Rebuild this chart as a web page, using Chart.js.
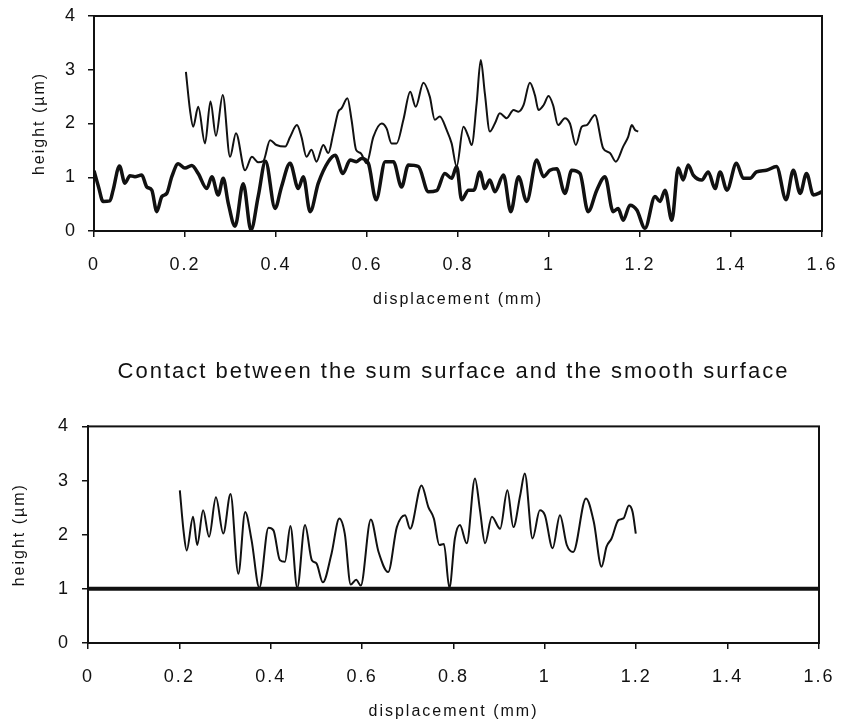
<!DOCTYPE html>
<html>
<head>
<meta charset="utf-8">
<script src="https://cdn.jsdelivr.net/npm/chart.js@4/dist/chart.umd.min.js"></script>
<style>
  body { margin: 0; background: #fff; }
  .box { position: absolute; left: 0; }
  canvas { display: block; }
</style>
</head>
<body>
<div class="box" style="top:0"><canvas id="profileChart" width="841" height="320"></canvas></div>
<div class="box" style="top:340px"><canvas id="contactChart" width="841" height="386"></canvas></div>
<script>
const xTicks = [0, 0.2, 0.4, 0.6, 0.8, 1, 1.2, 1.4, 1.6];
const yTicks = [0, 1, 2, 3, 4];

// first surface (thick line, top plot)
const surfaceAX = [
    0, 0.01, 0.02, 0.035, 0.042, 0.056, 0.068, 0.079, 0.09, 0.105,
    0.116, 0.127, 0.138, 0.149, 0.16, 0.171, 0.185, 0.2, 0.215, 0.229,
    0.248, 0.259, 0.273, 0.284, 0.295, 0.31, 0.328, 0.345, 0.361, 0.377,
    0.398, 0.412, 0.431, 0.449, 0.46, 0.475, 0.493, 0.515, 0.53, 0.547,
    0.563, 0.577, 0.588, 0.603, 0.62, 0.64, 0.658, 0.676, 0.691, 0.713,
    0.735, 0.753, 0.771, 0.786, 0.797, 0.808, 0.823, 0.835, 0.848, 0.859,
    0.87, 0.881, 0.9, 0.916, 0.933, 0.951, 0.973, 0.988, 1.002, 1.017,
    1.035, 1.05, 1.068, 1.086, 1.105, 1.123, 1.141, 1.152, 1.163, 1.178,
    1.193, 1.211, 1.233, 1.244, 1.255, 1.27, 1.284, 1.295, 1.306, 1.317,
    1.336, 1.35, 1.365, 1.376, 1.391, 1.412, 1.427, 1.442, 1.456, 1.478,
    1.5, 1.521, 1.537, 1.552, 1.566, 1.581, 1.6
];
const surfaceAY = [
    1.12, 0.82, 0.55, 0.56, 0.76, 1.21, 0.89, 1.03, 1.01, 1.04,
    0.82, 0.76, 0.36, 0.64, 0.70, 1.01, 1.25, 1.17, 1.22, 1.07,
    0.79, 1.01, 0.67, 0.98, 0.52, 0.09, 0.88, 0.02, 0.65, 1.30,
    0.42, 0.82, 1.26, 0.79, 1.01, 0.36, 0.89, 1.29, 1.41, 1.07,
    1.32, 1.29, 1.35, 1.26, 0.58, 1.29, 1.29, 0.82, 1.23, 1.20,
    0.73, 0.75, 1.07, 0.98, 1.20, 0.58, 0.76, 0.76, 1.10, 0.79,
    0.95, 0.73, 1.04, 0.36, 1.01, 0.55, 1.32, 1.01, 1.13, 1.16,
    0.70, 1.13, 1.07, 0.36, 0.76, 1.01, 0.36, 0.42, 0.20, 0.48,
    0.39, 0.05, 0.64, 0.55, 0.76, 0.20, 1.17, 0.95, 1.23, 1.04,
    0.95, 1.10, 0.79, 1.10, 0.76, 1.26, 0.98, 0.98, 1.10, 1.13,
    1.20, 0.58, 1.13, 0.70, 1.07, 0.67, 0.73
];

// second surface (thin line, top plot)
const surfaceBX = [
    0.202, 0.211, 0.218, 0.229, 0.244, 0.256, 0.268, 0.283, 0.299, 0.312,
    0.332, 0.347, 0.361, 0.372, 0.387, 0.401, 0.42, 0.431, 0.446, 0.456,
    0.467, 0.478, 0.489, 0.504, 0.515, 0.526, 0.537, 0.544, 0.557, 0.566,
    0.576, 0.586, 0.599, 0.614, 0.632, 0.643, 0.654, 0.665, 0.68, 0.695,
    0.707, 0.724, 0.738, 0.749, 0.76, 0.775, 0.786, 0.797, 0.812, 0.823,
    0.83, 0.841, 0.85, 0.859, 0.87, 0.881, 0.892, 0.907, 0.922, 0.933,
    0.944, 0.958, 0.969, 0.977, 0.988, 0.999, 1.009, 1.02, 1.035, 1.046,
    1.059, 1.072, 1.083, 1.101, 1.119, 1.134, 1.147, 1.163, 1.174, 1.182,
    1.189, 1.196
];
const surfaceBY = [
    2.96, 2.25, 1.94, 2.31, 1.63, 2.41, 1.77, 2.53, 1.38, 1.82,
    1.13, 1.38, 1.28, 1.30, 1.69, 1.60, 1.57, 1.75, 1.97, 1.75,
    1.38, 1.51, 1.29, 1.60, 1.45, 1.82, 2.22, 2.28, 2.47, 2.07,
    1.51, 1.45, 1.26, 1.75, 2.00, 1.91, 1.63, 1.63, 2.07, 2.59,
    2.31, 2.76, 2.50, 2.07, 2.13, 1.88, 1.63, 1.20, 1.94, 1.75,
    1.60, 2.38, 3.18, 2.56, 1.85, 2.00, 2.19, 2.10, 2.25, 2.22,
    2.34, 2.76, 2.53, 2.25, 2.34, 2.51, 2.34, 1.97, 2.10, 2.00,
    1.60, 1.94, 1.97, 2.16, 1.54, 1.45, 1.29, 1.57, 1.75, 1.97,
    1.88, 1.85
];

// sum surface (bottom plot)
const sumX = [
    0.201, 0.209, 0.216, 0.23, 0.239, 0.252, 0.265, 0.28, 0.296, 0.312,
    0.329, 0.344, 0.358, 0.375, 0.395, 0.406, 0.42, 0.431, 0.443, 0.458,
    0.475, 0.49, 0.5, 0.514, 0.533, 0.55, 0.562, 0.575, 0.587, 0.597,
    0.619, 0.636, 0.657, 0.676, 0.694, 0.705, 0.73, 0.745, 0.757, 0.769,
    0.779, 0.791, 0.803, 0.814, 0.829, 0.847, 0.858, 0.869, 0.884, 0.902,
    0.918, 0.931, 0.946, 0.956, 0.973, 0.989, 1.0, 1.017, 1.033, 1.048,
    1.062, 1.09, 1.107, 1.124, 1.135, 1.146, 1.161, 1.172, 1.184, 1.192,
    1.199
];
const sumY = [
    2.82, 2.08, 1.71, 2.33, 1.81, 2.45, 1.96, 2.69, 2.02, 2.75,
    1.28, 2.42, 1.90, 1.02, 2.13, 2.08, 1.53, 1.50, 2.16, 1.02,
    2.18, 1.53, 1.47, 1.12, 1.65, 2.30, 2.02, 1.08, 1.17, 1.06,
    2.28, 1.68, 1.31, 2.14, 2.36, 2.11, 2.91, 2.51, 2.30, 1.81,
    1.83, 1.02, 1.93, 2.18, 1.84, 3.04, 2.45, 1.84, 2.33, 2.11,
    2.82, 2.14, 2.73, 3.13, 1.93, 2.45, 2.36, 1.75, 2.36, 1.81,
    1.68, 2.67, 2.24, 1.41, 1.78, 1.93, 2.27, 2.30, 2.54, 2.42,
    2.02
];

// smooth surface (flat line, bottom plot)
const smoothX = [0, 1.6];
const smoothY = [1, 1];

const ink = '#111';
Chart.defaults.font.family = '"Liberation Sans", Arial, sans-serif';
Chart.defaults.color = ink;

const toPoints = (xs, ys) => xs.map((x, i) => ({ x: x, y: ys[i] }));

const curve = (xs, ys, width) => ({
    data: toPoints(xs, ys),
    borderColor: ink,
    borderWidth: width,
    pointRadius: 0,
    cubicInterpolationMode: 'monotone',
    fill: false
});

// box round the plot area + wide letter spacing of the scanned figure
const framePlugin = {
    id: 'frame',
    beforeDraw(chart) {
        chart.ctx.letterSpacing = '2px';
    },
    afterDatasetsDraw(chart) {
        const { ctx, chartArea: a } = chart;
        ctx.save();
        ctx.strokeStyle = ink;
        ctx.lineWidth = 2;
        ctx.strokeRect(a.left, a.top, a.right - a.left, a.bottom - a.top);
        ctx.restore();
    }
};

function makeScales(s) {
    const tickGrid = {
        drawOnChartArea: false,
        drawTicks: true,
        tickLength: 6,
        color: ink,
        lineWidth: 1.5
    };
    return {
        x: {
            type: 'linear',
            min: 0,
            max: 1.6,
            afterBuildTicks: sc => { sc.ticks = xTicks.map(v => ({ value: v })); },
            afterFit: sc => {
                sc.height = s.xHeight;
                sc.paddingLeft = 0;
                sc.paddingRight = 0;
            },
            grid: tickGrid,
            border: { color: ink, width: 2 },
            ticks: { padding: 17, font: { size: 18 }, callback: v => String(v) },
            title: {
                display: true,
                text: 'displacement (mm)',
                font: { size: 16 },
                padding: { top: 0, bottom: s.xTitlePad }
            }
        },
        y: {
            type: 'linear',
            min: 0,
            max: 4,
            afterBuildTicks: sc => { sc.ticks = yTicks.map(v => ({ value: v })); },
            afterFit: sc => {
                sc.width = s.yWidth;
                sc.paddingTop = 0;
                sc.paddingBottom = 0;
            },
            grid: tickGrid,
            border: { color: ink, width: 2 },
            ticks: { padding: s.yLabelPad, font: { size: 18 }, callback: v => String(v) },
            title: {
                display: true,
                text: 'height (µm)',
                font: { size: 16 },
                padding: { top: s.yTitlePad, bottom: 0 }
            }
        }
    };
}

new Chart(document.getElementById('profileChart'), {
    type: 'line',
    data: {
        datasets: [
            curve(surfaceAX, surfaceAY, 3.5),
            curve(surfaceBX, surfaceBY, 2)
        ]
    },
    options: {
        responsive: false,
        animation: false,
        layout: { padding: { top: 16, right: 19, bottom: 0, left: 0 } },
        plugins: {
            legend: { display: false },
            tooltip: { enabled: false }
        },
        scales: makeScales({ yWidth: 94, xHeight: 89, yLabelPad: 11, yTitlePad: 30, xTitlePad: 11 })
    },
    plugins: [framePlugin]
});

new Chart(document.getElementById('contactChart'), {
    type: 'line',
    data: {
        datasets: [
            curve(sumX, sumY, 2),
            curve(smoothX, smoothY, 4)
        ]
    },
    options: {
        responsive: false,
        animation: false,
        layout: { padding: { top: 0, right: 22, bottom: 0, left: 0 } },
        plugins: {
            legend: { display: false },
            tooltip: { enabled: false },
            title: {
                display: true,
                text: 'Contact between the sum surface and the smooth surface',
                fullSize: false,
                color: ink,
                font: { size: 22, weight: 'normal' },
                padding: { top: 19, bottom: 41 }
            }
        },
        scales: makeScales({ yWidth: 88, xHeight: 83, yLabelPad: 12, yTitlePad: 10, xTitlePad: 5 })
    },
    plugins: [framePlugin]
});
</script>
</body>
</html>
